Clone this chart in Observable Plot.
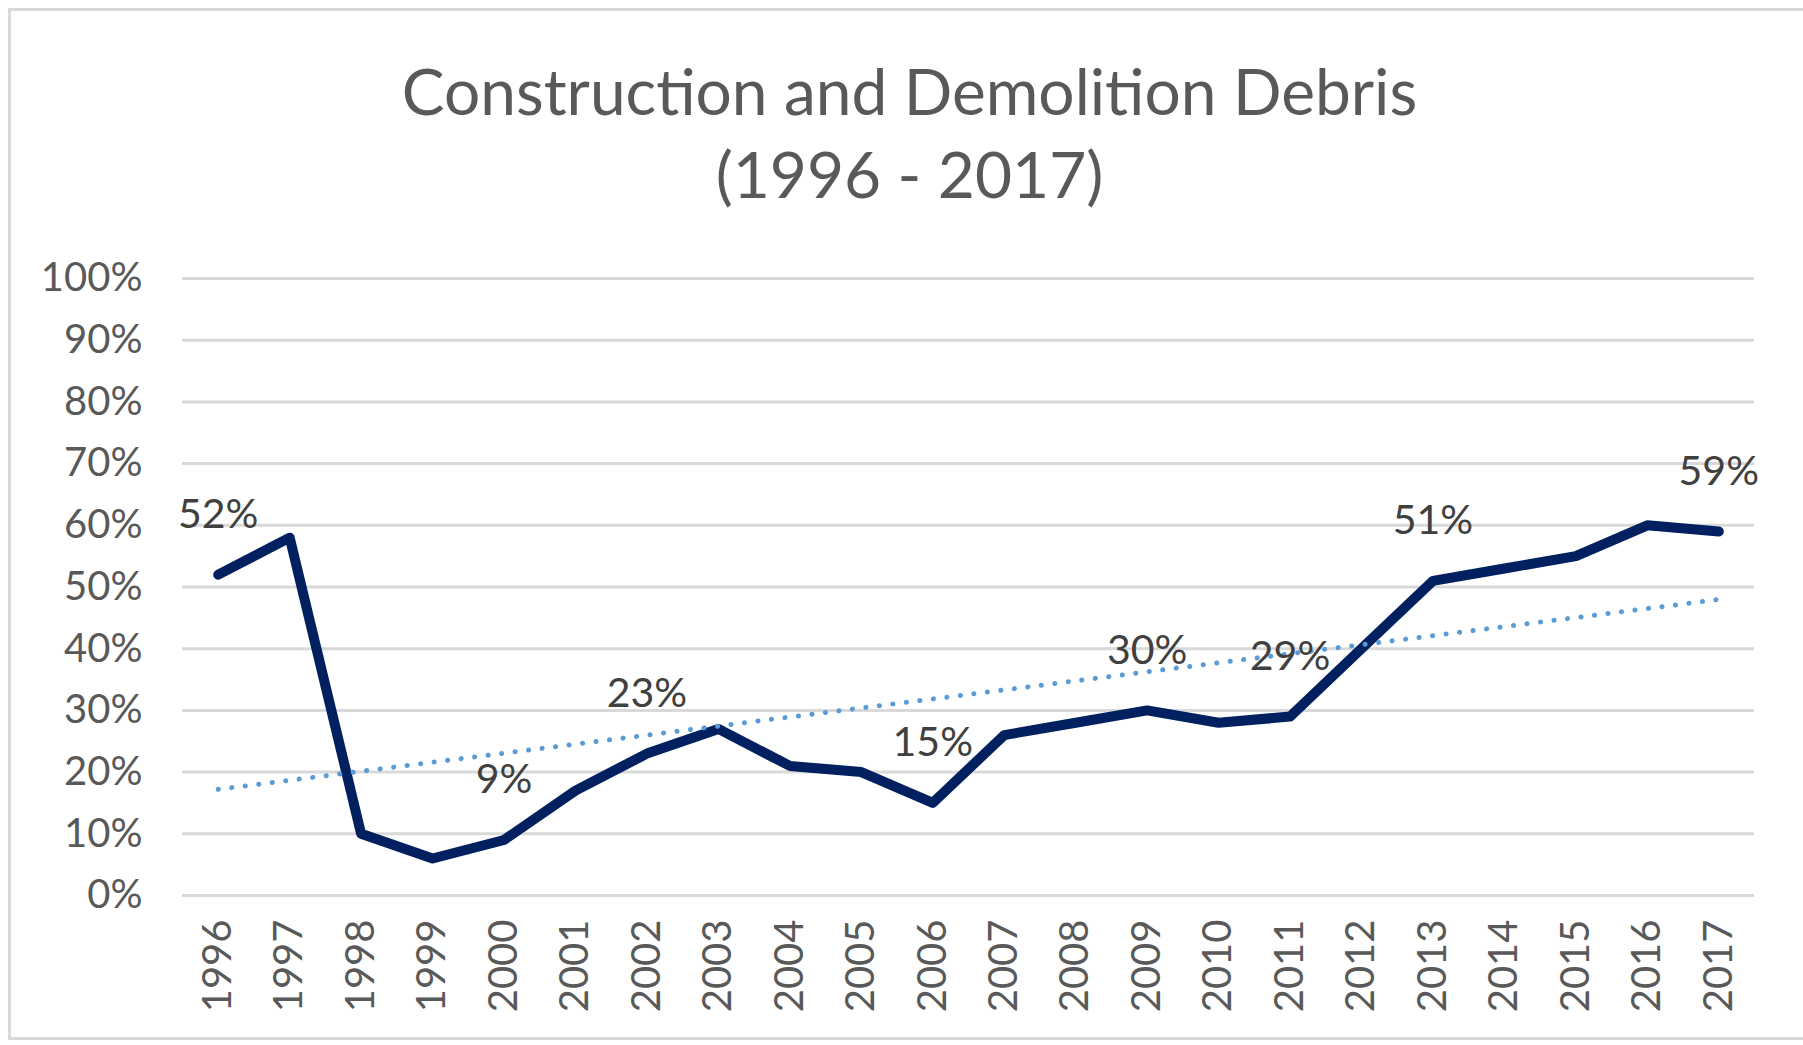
<!DOCTYPE html>
<html>
<head>
<meta charset="utf-8">
<script src="https://cdn.jsdelivr.net/npm/d3@7"></script>
<script src="https://cdn.jsdelivr.net/npm/@observablehq/plot@0.6"></script>
<style>
  html, body { margin: 0; padding: 0; background: #fff; }
  #wrap { position: relative; width: 1803px; height: 1045px; overflow: hidden; font-family: Lato, sans-serif; }
  #frame { position: absolute; left: 8px; top: 8px; width: 1810px; height: 1032px; border: 3px solid #D9D9D9; box-sizing: border-box; }
  #title { position: absolute; left: 8px; top: 49px; width: 1803px; text-align: center; font-size: 64px; line-height: 83px; color: #595959; }
  #chart { position: absolute; left: 0; top: 230px; }
</style>
</head>
<body>
<div id="wrap">
  <div id="frame"></div>
  <div id="title">Construction and Demolition Debris<br>(1996 - 2017)</div>
  <div id="chart"></div>
</div>
<script>
const years = [1996, 1997, 1998, 1999, 2000, 2001, 2002, 2003, 2004, 2005, 2006,
               2007, 2008, 2009, 2010, 2011, 2012, 2013, 2014, 2015, 2016, 2017];
const values = [0.52, 0.58, 0.10, 0.06, 0.09, 0.17, 0.23, 0.27, 0.21, 0.20, 0.15,
                0.26, 0.28, 0.30, 0.28, 0.29, 0.40, 0.51, 0.53, 0.55, 0.60, 0.59];
const labeledYears = [1996, 2000, 2002, 2006, 2009, 2011, 2013, 2017];
const yTicks = [0, 0.1, 0.2, 0.3, 0.4, 0.5, 0.6, 0.7, 0.8, 0.9, 1.0];

const data = years.map((year, i) => ({year, value: values[i]}));
const labeled = data.filter(d => labeledYears.includes(d.year));
const pct = d3.format(".0%");

const chart = Plot.plot({
  width: 1803,
  height: 815,
  marginLeft: 182,
  marginRight: 49,
  marginTop: 48,
  marginBottom: 150,
  style: {fontFamily: "Lato, sans-serif", fontSize: "40px", color: "#595959", background: "transparent"},
  x: {type: "linear", domain: [1995.5, 2017.5]},
  y: {domain: [0, 1]},
  marks: [
    Plot.gridY(yTicks, {stroke: "#D9D9D9", strokeOpacity: 1, strokeWidth: 3}),
    Plot.axisY(yTicks, {tickSize: 0, tickPadding: 40, tickFormat: pct, label: null, fontSize: 40, fill: "#595959"}),
    Plot.axisX(years, {tickSize: 0, tickPadding: 24, tickRotate: -90, tickFormat: d => String(d), label: null, fontSize: 40, fill: "#595959"}),
    Plot.line(data, {x: "year", y: "value", stroke: "#002060", strokeWidth: 10, strokeLinejoin: "round", strokeLinecap: "round"}),
    Plot.linearRegressionY(data, {x: "year", y: "value", stroke: "#5B9BD5", strokeWidth: 5, strokeDasharray: "0.1 13.5", strokeLinecap: "round", ci: 0}),
    Plot.text(labeled, {x: "year", y: "value", text: d => pct(d.value), dy: -60, fill: "#404040", fontSize: 41})
  ]
});
document.getElementById("chart").appendChild(chart);
</script>
</body>
</html>
